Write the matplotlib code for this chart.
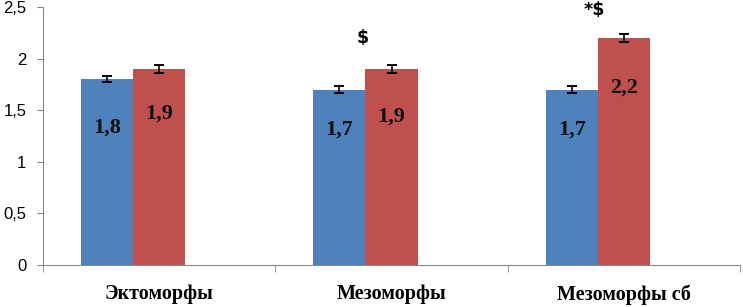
import matplotlib
matplotlib.use("Agg")
import matplotlib.pyplot as plt
import numpy as np

categories = ["Эктоморфы", "Мезоморфы", "Мезоморфы сб"]
series1 = [1.8, 1.7, 1.7]
series2 = [1.9, 1.9, 2.2]
err1 = [0.03, 0.03, 0.03]
err2 = [0.035, 0.035, 0.04]
labels1 = ["1,8", "1,7", "1,7"]
labels2 = ["1,9", "1,9", "2,2"]
marks = ["", "$", "*$"]
mark_y = [0, 2.2, 2.47]
yticks = [0, 0.5, 1, 1.5, 2, 2.5]
ytick_labels = ["0", "0,5", "1", "1,5", "2", "2,5"]

blue = "#4F81BD"
red = "#C0504D"

fig = plt.figure(figsize=(7.43, 3.07), dpi=100)
ax = fig.add_axes([43/743, 1-265/307, (740-43)/743, (265-7)/307])

x = np.arange(len(categories))
w = 0.224
ax.bar(x - w, series1, w, color=blue, yerr=err1,
       error_kw=dict(ecolor="black", capsize=3.8, elinewidth=1.2, capthick=1.4))
ax.bar(x, series2, w, color=red, yerr=err2,
       error_kw=dict(ecolor="black", capsize=3.8, elinewidth=1.2, capthick=1.4))

offs1 = [-34.5, -28.5, -28.5]
offs2 = [-32, -34, -36]
for i in range(len(categories)):
    ax.annotate(labels1[i], (x[i] - w, series1[i]), xytext=(0, offs1[i]),
                textcoords="offset points", ha="center", va="center",
                fontsize=16, fontweight="bold", family="Liberation Serif", color="#111111")
    ax.annotate(labels2[i], (x[i], series2[i]), xytext=(0, offs2[i]),
                textcoords="offset points", ha="center", va="center",
                fontsize=16, fontweight="bold", family="Liberation Serif", color="#111111")
    if marks[i]:
        ax.text(x[i] - 0.125, mark_y[i], marks[i], ha="center", va="center",
                fontsize=12.5, fontweight="bold", family="DejaVu Sans")

ax.set_xlim(-0.5, len(categories) - 0.5)
ax.set_ylim(0, 2.5)
ax.set_yticks(yticks)
ax.set_yticklabels(ytick_labels, fontsize=12, family="Liberation Sans")
ax.set_xticks(x)
ax.set_xticklabels(categories, fontsize=14.5, fontweight="bold", family="Liberation Serif")
ax.tick_params(axis="x", length=0, pad=14)
ax.set_xticks(np.arange(len(categories) + 1) - 0.5, minor=True)
ax.tick_params(axis="x", which="minor", length=5, color="#888888")
ax.tick_params(axis="y", length=4, color="#888888", pad=8)

for s in ["top", "right"]:
    ax.spines[s].set_visible(False)
for s in ["left", "bottom"]:
    ax.spines[s].set_color("#888888")

fig.savefig("out.png", dpi=100)
